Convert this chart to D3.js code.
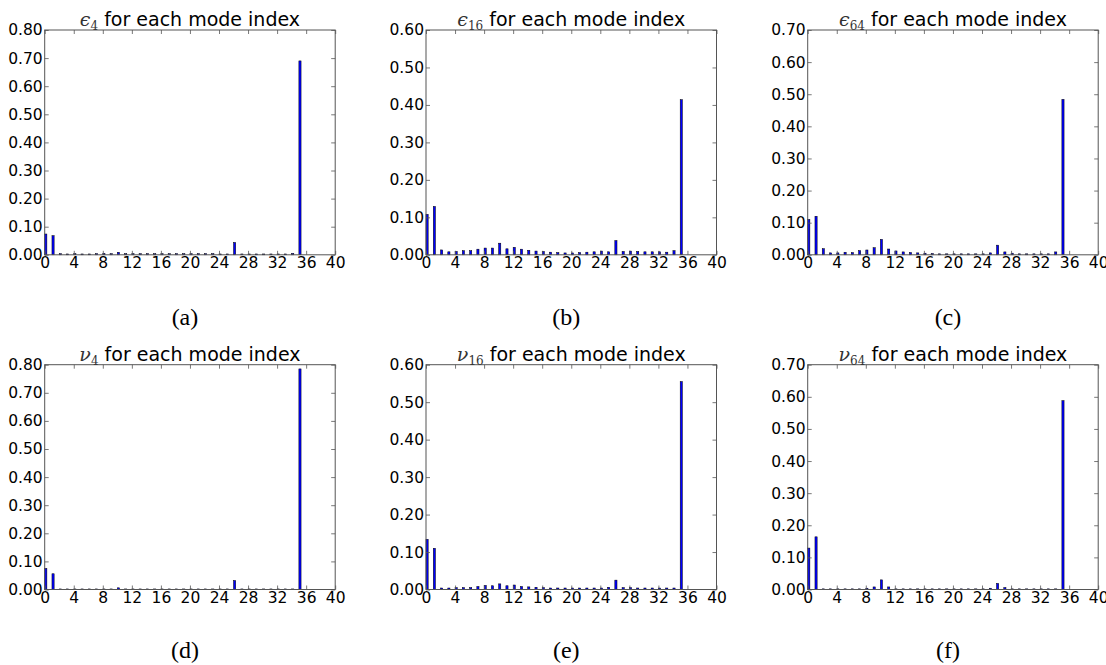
<!DOCTYPE html>
<html>
<head>
<meta charset="utf-8">
<script src="https://cdn.jsdelivr.net/npm/d3@7"></script>
<style>
  html, body { margin: 0; padding: 0; background: #fff; }
  svg { display: block; }
  .tick text { font-family: "DejaVu Sans", sans-serif; }
</style>
</head>
<body>
<svg id="fig" width="1106" height="665"></svg>
<script>
// Mode indices shared by every panel
const modeIndex = [0,1,2,3,4,5,6,7,8,9,10,11,12,13,14,15,16,17,18,19,20,21,22,23,24,25,26,27,28,29,30,31,32,33,34,35];

// Energy fraction per mode
const eps4  = [0.074,0.068,0.004,0.003,0.004,0.003,0.003,0.004,0.005,0.004,0.009,0.004,0.004,0.004,0.004,0.004,0.004,0.004,0.004,0.004,0.004,0.004,0.004,0.004,0.003,0.003,0.044,0.003,0.003,0.003,0.003,0.003,0.003,0.003,0.005,0.690];
const eps16 = [0.108,0.129,0.013,0.008,0.009,0.011,0.011,0.015,0.018,0.018,0.031,0.016,0.020,0.015,0.012,0.010,0.009,0.007,0.006,0.005,0.005,0.006,0.007,0.008,0.010,0.008,0.038,0.009,0.010,0.009,0.008,0.008,0.008,0.007,0.011,0.414];
const eps64 = [0.110,0.120,0.019,0.006,0.006,0.008,0.007,0.013,0.015,0.022,0.048,0.018,0.012,0.009,0.007,0.006,0.005,0.004,0.003,0.003,0.003,0.003,0.003,0.003,0.003,0.006,0.030,0.009,0.005,0.003,0.003,0.003,0.003,0.003,0.009,0.484];
const nu4   = [0.075,0.056,0.002,0.002,0.002,0.002,0.002,0.002,0.002,0.002,0.006,0.002,0.002,0.002,0.002,0.002,0.002,0.002,0.002,0.002,0.002,0.002,0.002,0.002,0.002,0.002,0.032,0.002,0.002,0.002,0.002,0.002,0.002,0.002,0.002,0.785];
const nu16  = [0.134,0.110,0.004,0.004,0.005,0.005,0.005,0.008,0.011,0.010,0.015,0.010,0.012,0.008,0.007,0.006,0.005,0.004,0.004,0.004,0.004,0.004,0.004,0.004,0.004,0.006,0.025,0.005,0.005,0.004,0.004,0.004,0.004,0.004,0.004,0.555];
const nu64  = [0.129,0.164,0.002,0.002,0.002,0.002,0.002,0.002,0.004,0.008,0.030,0.008,0.002,0.002,0.002,0.002,0.002,0.002,0.002,0.002,0.002,0.002,0.002,0.002,0.002,0.004,0.019,0.006,0.002,0.002,0.002,0.002,0.002,0.002,0.002,0.588];

// Axis ranges and tick labels
const xTicks = [0,4,8,12,16,20,24,28,32,36,40];
const yMaxes = [0.8, 0.6, 0.7, 0.8, 0.6, 0.7];
const symbols = ["\u03F5","\u03F5","\u03F5","\u03BD","\u03BD","\u03BD"];
const subscripts = ["4","16","64","4","16","64"];
const captions = ["(a)","(b)","(c)","(d)","(e)","(f)"];
const series = [eps4, eps16, eps64, nu4, nu16, nu64];

const svg = d3.select("#fig");
const colLeft = [44.7, 426, 807.7];
const rowTop = [30, 364.7];
const W = 290.5, H = 224.8;
const barWidth = 0.3;

series.forEach((vals, k) => {
  const col = k % 3, row = Math.floor(k / 3);
  const g = svg.append("g").attr("transform", `translate(${colLeft[col]},${rowTop[row]})`);
  const x = d3.scaleLinear().domain([0, 40]).range([0, W]);
  const y = d3.scaleLinear().domain([0, yMaxes[k]]).range([H, 0]);
  const yTicks = d3.range(0, Math.round(yMaxes[k] * 10) + 1).map(i => i / 10);

  // bars
  g.selectAll("rect.bar").data(modeIndex).join("rect")
    .attr("class", "bar")
    .attr("x", i => x(i))
    .attr("width", x(barWidth) - x(0))
    .attr("y", i => y(vals[i]))
    .attr("height", i => y(0) - y(vals[i]))
    .attr("fill", "#0000ff")
    .attr("stroke", "#000")
    .attr("stroke-width", 0.5);

  const fmt = d3.format(".2f");
  const styleAxis = sel => {
    sel.select(".domain").remove();
    sel.selectAll(".tick line").attr("stroke", "#555").attr("stroke-width", 0.8);
    sel.selectAll(".tick text").attr("fill", "#000").attr("font-size", 15.5);
  };
  g.append("g").call(d3.axisLeft(y).tickValues(yTicks).tickFormat(fmt).tickSize(-4).tickPadding(2)).call(styleAxis);
  g.append("g").attr("transform", `translate(${W},0)`).call(d3.axisRight(y).tickValues(yTicks).tickFormat("").tickSize(-4)).call(styleAxis);
  g.append("g").attr("transform", `translate(0,${H})`).call(d3.axisBottom(x).tickValues(xTicks).tickFormat(d3.format("d")).tickSize(-4).tickPadding(2)).call(styleAxis);
  g.append("g").call(d3.axisTop(x).tickValues(xTicks).tickFormat("").tickSize(-4)).call(styleAxis);

  // frame
  g.append("rect").attr("width", W).attr("height", H)
    .attr("fill", "none").attr("stroke", "#555").attr("stroke-width", 1);

  // title
  const t = g.append("text").attr("x", W / 2).attr("y", -4)
    .attr("text-anchor", "middle").attr("font-family", "DejaVu Sans, sans-serif")
    .attr("font-size", 19).attr("fill", "#000");
  t.append("tspan").attr("font-family", "DejaVu Serif, serif").attr("font-style", "italic").attr("fill", "#333").text(symbols[k]);
  t.append("tspan").attr("font-family", "DejaVu Serif, serif").attr("font-size", 12).attr("dy", 4).attr("fill", "#333").text(subscripts[k]);
  t.append("tspan").attr("dy", -4).text(" for each mode index");

  // caption
  svg.append("text")
    .attr("x", colLeft[col] + W / 2 - 5)
    .attr("y", row === 0 ? 325 : 658)
    .attr("text-anchor", "middle")
    .attr("font-family", "Liberation Serif, Times New Roman, serif")
    .attr("font-size", 24).attr("fill", "#000")
    .text(captions[k]);
});
</script>
</body>
</html>
